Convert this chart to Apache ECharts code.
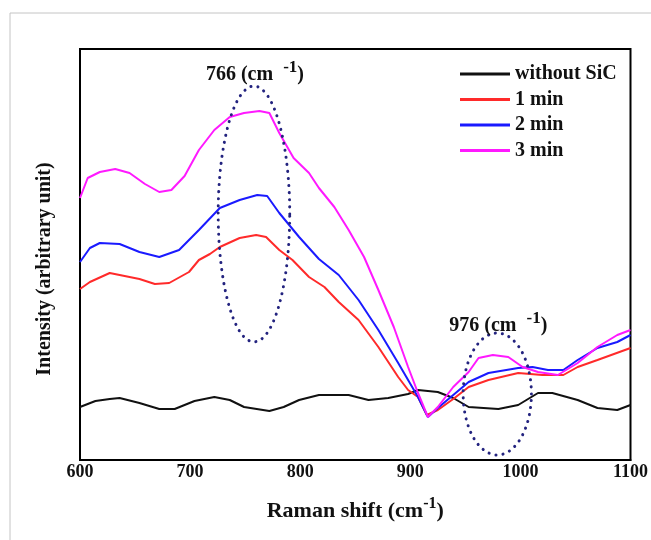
<!DOCTYPE html>
<html>
<head>
<meta charset="utf-8">
<script src="https://cdn.jsdelivr.net/npm/echarts@6/dist/echarts.min.js"></script>
<style>html,body{margin:0;padding:0;background:#fff}#c{width:651px;height:540px}</style>
</head>
<body>
<div id="c"></div>
<script>
var seriesNames = ['without SiC', '1 min', '2 min', '3 min'];
var xTicks = [600, 700, 800, 900, 1000, 1100];

var withoutSiC = [[600,53],[614,59],[627,61],[636,62],[654,57],[672,51],[686,51],[704,59],[722,63],[736,60],[749,53],[772,49],[785,53],[799,60],[817,65],[844,65],[862,60],[880,62],[898,66],[907,70],[925,68],[939,62],[953,53],[980,51],[998,55],[1016,67],[1029,67],[1052,60],[1070,52],[1088,50],[1100,55]];
var min1 = [[600,171],[609,178],[627,187],[636,185],[654,181],[668,176],[681,177],[699,188],[708,200],[718,206],[727,213],[745,222],[760,225],[769,223],[781,210],[793,200],[808,183],[822,173],[835,158],[853,140],[871,113],[889,83],[898,70],[907,63],[915,45],[925,50],[939,61],[953,73],[971,80],[998,87],[1020,85],[1039,85],[1052,93],[1070,100],[1100,112]];
var min2 = [[600,198],[609,212],[618,217],[636,216],[654,208],[672,203],[690,210],[708,230],[727,252],[745,260],[761,265],[770,264],[781,247],[799,223],[817,201],[835,185],[853,160],[871,130],[889,97],[907,63],[916,43],[925,52],[939,65],[953,78],[971,87],[998,92],[1011,93],[1025,90],[1039,90],[1052,100],[1070,112],[1088,118],[1100,125]];
var min3 = [[600,262],[607,282],[618,288],[632,291],[645,287],[659,276],[672,268],[683,270],[695,284],[708,310],[722,330],[736,343],[749,347],[763,349],[772,347],[781,327],[794,302],[808,287],[817,272],[831,253],[844,230],[858,203],[871,170],[885,133],[898,93],[907,67],[916,43],[925,53],[939,73],[953,88],[962,102],[975,105],[989,103],[1002,93],[1016,88],[1034,85],[1052,97],[1070,113],[1088,125],[1100,130]];

// annotation ellipses: [centerX, centerY, radiusX, radiusY]
var ellipse1 = [758, 246, 32.5, 128];
var ellipse2 = [979, 66, 31, 61];
var annotTexts = ['766', '976'];
var annotPos = [[758, 388], [979, 137]];

function ellipsePts(e) {
  var pts = [];
  for (var i = 0; i <= 120; i++) {
    var t = i / 120 * Math.PI * 2;
    pts.push([e[0] + e[2] * Math.cos(t), e[1] + e[3] * Math.sin(t)]);
  }
  return pts;
}

var FONT = '"Liberation Serif", "Times New Roman", serif';
var colors = ['#111111', '#ff2a2a', '#1a1aff', '#ff19ff'];
var datas = [withoutSiC, min1, min2, min3];

var series = datas.map(function (d, i) {
  return {
    name: seriesNames[i], type: 'line', data: d, symbol: 'none',
    lineStyle: { color: colors[i], width: 2 }, itemStyle: { color: colors[i] },
    z: 2 + i, silent: true, animation: false
  };
});
[ellipse1, ellipse2].forEach(function (e) {
  series.push({
    type: 'line', data: ellipsePts(e), symbol: 'none', silent: true, animation: false, z: 10,
    lineStyle: { color: '#23237f', width: 3, type: [0.1, 7], cap: 'round' }
  });
});

var richSup = {
  a: { fontFamily: FONT, fontWeight: 'bold', fontSize: 20, fill: '#111', color: '#111', lineHeight: 26, verticalAlign: 'bottom' },
  s: { fontFamily: FONT, fontWeight: 'bold', fontSize: 17, fill: '#111', color: '#111', lineHeight: 26, verticalAlign: 'top', padding: [0, 0, 9, 0] }
};

var chart = echarts.init(document.getElementById('c'));
chart.setOption({
  animation: false,
  backgroundColor: '#fff',
  grid: { left: 80, right: 18, top: 49, bottom: 80, show: true, borderColor: '#000', borderWidth: 2, backgroundColor: 'transparent' },
  xAxis: {
    type: 'value', min: 600, max: 1100, interval: 100,
    axisLine: { show: true, lineStyle: { color: '#000', width: 2 } },
    axisTick: { show: false }, splitLine: { show: false },
    axisLabel: { fontFamily: FONT, fontWeight: 'bold', fontSize: 18, color: '#111', margin: 3,
      formatter: function (v) { return xTicks.indexOf(v) >= 0 ? String(v) : ''; } },
    name: '{a|Raman shift (cm}{s|-1}{a|)}', nameLocation: 'middle', nameGap: 36,
    nameTextStyle: { rich: {
      a: { fontFamily: FONT, fontWeight: 'bold', fontSize: 22, color: '#111', lineHeight: 26, verticalAlign: 'bottom' },
      s: { fontFamily: FONT, fontWeight: 'bold', fontSize: 16, color: '#111', lineHeight: 26, verticalAlign: 'top', padding: [0, 0, 9, 0] }
    } }
  },
  yAxis: {
    type: 'value', min: 0, max: 411,
    axisLine: { show: true, lineStyle: { color: '#000', width: 2 } },
    axisTick: { show: false }, splitLine: { show: false }, axisLabel: { show: false }
  },
  legend: {
    data: seriesNames, orient: 'vertical', left: 460, top: 64, icon: 'rect', padding: 0,
    itemWidth: 50, itemHeight: 3, itemGap: 5.5,
    textStyle: { fontFamily: FONT, fontWeight: 'bold', fontSize: 20, color: '#111', lineHeight: 20 }
  },
  graphic: [
    { type: 'rect', z: -1, shape: { x: 10, y: 13, width: 700, height: 600 }, style: { fill: 'none', stroke: '#c4c4c4', lineWidth: 1 } },
    { type: 'text', x: 45, y: 269, rotation: Math.PI / 2,
      style: { text: 'Intensity (arbitrary unit)', fontFamily: FONT, fontWeight: 'bold', fontSize: 20, fill: '#111', align: 'center', verticalAlign: 'middle' } }
  ],
  series: series
});

var extra = annotPos.map(function (p, i) {
  var px = chart.convertToPixel({ gridIndex: 0 }, p);
  return {
    type: 'text', x: px[0] + 1, y: px[1], z: 20,
    style: { text: '{a|' + annotTexts[i] + ' (cm  }{s|-1}{a|)}', rich: richSup, align: 'center', verticalAlign: 'middle', fill: '#111' }
  };
});
var g = chart.getOption().graphic[0].elements.slice(0, 2).map(function () { return {}; });
chart.setOption({ graphic: g.concat(extra) });
</script>
</body>
</html>
